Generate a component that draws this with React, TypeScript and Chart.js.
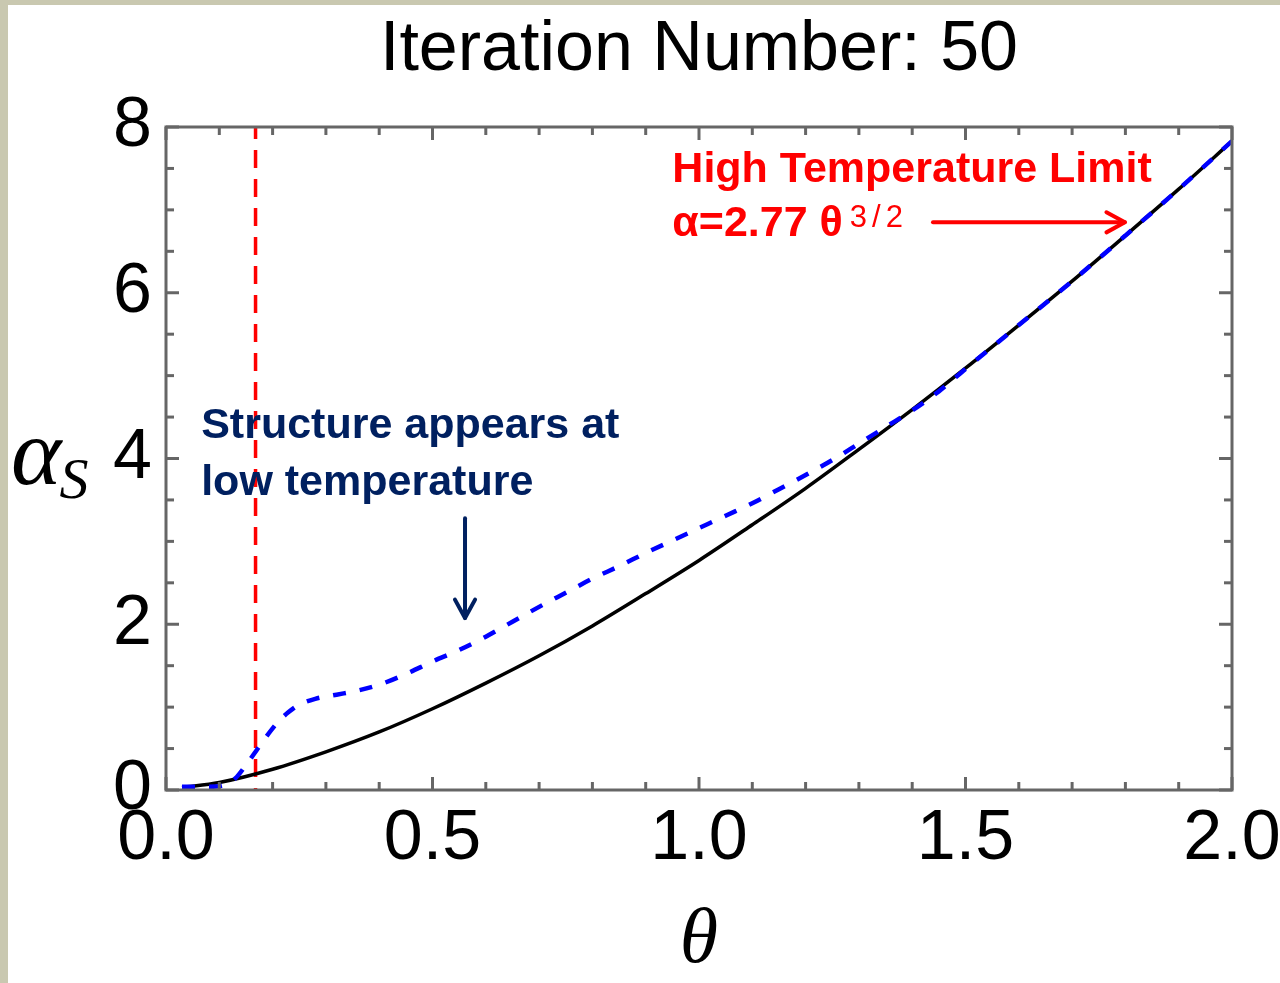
import React, { useEffect, useRef } from "react";
import { Chart, registerables } from "chart.js";

Chart.register(...registerables);

// ---------- text ----------
const TITLE = "Iteration Number: 50";
const X_TITLE = "θ";
const Y_TITLE_MAIN = "α";
const Y_TITLE_SUB = "S";
const HIGH_T_LINE1 = "High Temperature Limit";
const HIGH_T_LINE2 = "α=2.77 θ";
const HIGH_T_SUP = ["3", "/", "2"];
const STRUCT_LINE1 = "Structure appears at";
const STRUCT_LINE2 = "low temperature";

// ---------- axes ----------
const X_MIN = 0;
const X_MAX = 2;
const X_STEP = 0.1;
const X_MAJOR = 0.5;
const Y_MIN = 0;
const Y_MAX = 8;
const Y_STEP = 0.5;
const Y_MAJOR = 2;

// ---------- data ----------
// high temperature limit (solid black)
const limitTheta = [0.03, 0.1, 0.2, 0.3, 0.4, 0.5, 0.6, 0.7, 0.8, 0.9, 1.0, 1.1, 1.2, 1.3, 1.4, 1.5, 1.6, 1.7, 1.8, 1.9, 2.0];
const limitAlpha = [0.03, 0.09, 0.25, 0.46, 0.7, 0.98, 1.29, 1.62, 1.98, 2.37, 2.77, 3.2, 3.64, 4.11, 4.59, 5.09, 5.61, 6.14, 6.69, 7.25, 7.83];

// iteration 50 result (dashed blue)
const iterTheta = [0.03, 0.08, 0.11, 0.13, 0.15, 0.17, 0.19, 0.21, 0.23, 0.25, 0.28, 0.32, 0.36, 0.4, 0.45, 0.5, 0.55, 0.6, 0.65, 0.7, 0.75, 0.8, 0.85, 0.9, 0.95, 1.0, 1.05, 1.1, 1.15, 1.2, 1.25, 1.3, 1.35, 1.4, 1.45, 1.5, 1.6, 1.7, 1.8, 1.9, 2.0];
const iterAlpha = [0.04, 0.04, 0.06, 0.14, 0.3, 0.48, 0.66, 0.82, 0.94, 1.03, 1.1, 1.15, 1.2, 1.27, 1.4, 1.55, 1.69, 1.85, 2.03, 2.21, 2.38, 2.55, 2.7, 2.86, 3.01, 3.16, 3.31, 3.46, 3.63, 3.8, 3.98, 4.18, 4.38, 4.58, 4.81, 5.08, 5.61, 6.14, 6.69, 7.25, 7.83];

// red vertical marker
const markerTheta = [0.168, 0.168];
const markerAlpha = [8, 0];

// annotation anchors in data coordinates
const highTextAnchor = { theta: 0.95, alpha1: 7.34, alpha2: 6.69 };
const highArrow = { theta0: 1.439, theta1: 1.799, alpha: 6.85 };
const structTextAnchor = { theta: 0.066, alpha1: 4.25, alpha2: 3.56 };
const structArrow = { theta: 0.561, alpha0: 3.28, alpha1: 2.075 };

const toPoints = (xs: number[], ys: number[]) => xs.map((x, i) => ({ x, y: ys[i] }));
const isMultiple = (v: number, m: number) => Math.abs(v / m - Math.round(v / m)) < 1e-6;

const RED = "#ff0000";
const NAVY = "#002060";
const FRAME = "#666666";
const SANS = '"Liberation Sans", Arial, sans-serif';
const SERIF = '"Liberation Serif", "Times New Roman", serif';

const frameTicksPlugin = {
  id: "frameTicks",
  afterDatasetsDraw(chart: any) {
    const { ctx, chartArea: a, scales } = chart;
    const xs = scales.x;
    const ys = scales.y;
    ctx.save();
    ctx.strokeStyle = FRAME;
    ctx.lineWidth = 3;
    ctx.lineCap = "butt";
    const seg = (x0: number, y0: number, x1: number, y1: number) => {
      ctx.beginPath();
      ctx.moveTo(x0, y0);
      ctx.lineTo(x1, y1);
      ctx.stroke();
    };
    xs.ticks.forEach((t: any) => {
      const px = xs.getPixelForValue(t.value);
      const len = isMultiple(t.value, X_MAJOR) ? 13 : 8;
      seg(px, a.bottom, px, a.bottom - len);
      seg(px, a.top, px, a.top + len);
    });
    ys.ticks.forEach((t: any) => {
      const py = ys.getPixelForValue(t.value);
      const len = isMultiple(t.value, Y_MAJOR) ? 13 : 8;
      seg(a.left, py, a.left + len, py);
      seg(a.right, py, a.right - len, py);
    });
    ctx.strokeRect(a.left, a.top, a.right - a.left, a.bottom - a.top);
    ctx.restore();
  },
};

const notesPlugin = {
  id: "notes",
  afterDraw(chart: any) {
    const { ctx, chartArea: a, scales } = chart;
    const x = scales.x;
    const y = scales.y;
    ctx.save();
    ctx.textAlign = "left";
    ctx.textBaseline = "alphabetic";

    // plot title, centred over the plot frame
    ctx.fillStyle = "#000";
    ctx.font = `70px ${SANS}`;
    ctx.textAlign = "center";
    ctx.fillText(TITLE, (a.left + a.right) / 2, 70);
    ctx.textAlign = "left";

    // y-axis title α_S
    const cy = (a.top + a.bottom) / 2;
    ctx.font = `italic 96px ${SERIF}`;
    const ax = a.left - 155;
    ctx.fillText(Y_TITLE_MAIN, ax, cy + 25);
    const aw = ctx.measureText(Y_TITLE_MAIN).width;
    ctx.font = `italic 58px ${SERIF}`;
    ctx.fillText(Y_TITLE_SUB, ax + aw - 2, cy + 39);

    // High temperature limit text
    ctx.fillStyle = RED;
    ctx.font = `bold 43px ${SANS}`;
    const hx = x.getPixelForValue(highTextAnchor.theta);
    ctx.fillText(HIGH_T_LINE1, hx, y.getPixelForValue(highTextAnchor.alpha1));
    const h2y = y.getPixelForValue(highTextAnchor.alpha2);
    ctx.fillText(HIGH_T_LINE2, hx, h2y);
    let cx = hx + ctx.measureText(HIGH_T_LINE2).width + 7;
    ctx.font = `31px ${SANS}`;
    HIGH_T_SUP.forEach((ch) => {
      ctx.fillText(ch, cx, h2y - 9);
      cx += ctx.measureText(ch).width + 5;
    });

    const arrow = (x0: number, y0: number, x1: number, y1: number, color: string) => {
      ctx.strokeStyle = color;
      ctx.lineWidth = 4;
      ctx.lineCap = "round";
      ctx.lineJoin = "round";
      ctx.beginPath();
      ctx.moveTo(x0, y0);
      ctx.lineTo(x1, y1);
      ctx.stroke();
      const ang = Math.atan2(y1 - y0, x1 - x0);
      const L = 21;
      const spread = 0.5;
      ctx.beginPath();
      ctx.moveTo(x1 - L * Math.cos(ang - spread), y1 - L * Math.sin(ang - spread));
      ctx.lineTo(x1, y1);
      ctx.lineTo(x1 - L * Math.cos(ang + spread), y1 - L * Math.sin(ang + spread));
      ctx.stroke();
    };
    const ay = y.getPixelForValue(highArrow.alpha);
    arrow(x.getPixelForValue(highArrow.theta0), ay, x.getPixelForValue(highArrow.theta1), ay, RED);

    // Structure text
    ctx.fillStyle = NAVY;
    ctx.font = `bold 43px ${SANS}`;
    const sx = x.getPixelForValue(structTextAnchor.theta);
    ctx.fillText(STRUCT_LINE1, sx, y.getPixelForValue(structTextAnchor.alpha1));
    ctx.fillText(STRUCT_LINE2, sx, y.getPixelForValue(structTextAnchor.alpha2));
    const vx = x.getPixelForValue(structArrow.theta);
    arrow(vx, y.getPixelForValue(structArrow.alpha0), vx, y.getPixelForValue(structArrow.alpha1), NAVY);

    ctx.restore();
  },
};

export default function App() {
  const canvasRef = useRef<HTMLCanvasElement | null>(null);

  useEffect(() => {
    document.body.style.margin = "0";
    const canvas = canvasRef.current;
    if (!canvas) return;
    const chart = new Chart(canvas, {
      type: "line",
      data: {
        datasets: [
          {
            label: "marker",
            data: toPoints(markerTheta, markerAlpha),
            borderColor: RED,
            borderWidth: 3.5,
            borderDash: [18, 11],
            borderDashOffset: 6,
            pointRadius: 0,
            fill: false,
            order: 3,
          },
          {
            label: "limit",
            data: toPoints(limitTheta, limitAlpha),
            borderColor: "#000000",
            borderWidth: 3.5,
            cubicInterpolationMode: "monotone",
            pointRadius: 0,
            fill: false,
            order: 2,
          },
          {
            label: "iteration",
            data: toPoints(iterTheta, iterAlpha),
            borderColor: "#0000ff",
            borderWidth: 4.5,
            borderDash: [13, 14],
            cubicInterpolationMode: "monotone",
            pointRadius: 0,
            fill: false,
            order: 1,
          },
        ],
      },
      options: {
        animation: false,
        responsive: false,
        events: [],
        layout: { padding: { left: 0, right: 48, top: 127, bottom: 0 } },
        plugins: {
          legend: { display: false },
          tooltip: { enabled: false },
          title: { display: false },
        },
        scales: {
          x: {
            type: "linear",
            min: X_MIN,
            max: X_MAX,
            grid: { display: false, drawTicks: false },
            border: { display: false },
            afterFit: (s: any) => {
              s.height = 193;
              s.paddingLeft = 0;
              s.paddingRight = 0;
            },
            ticks: {
              stepSize: X_STEP,
              autoSkip: false,
              maxRotation: 0,
              minRotation: 0,
              padding: 8,
              color: "#000",
              font: { family: SANS, size: 70, lineHeight: 1.2 },
              callback: (v: any) => (isMultiple(Number(v), X_MAJOR) ? Number(v).toFixed(1) : ""),
            },
            title: {
              display: true,
              text: X_TITLE,
              color: "#000",
              font: { family: SERIF, style: "italic", size: 78, lineHeight: 1 },
              padding: { top: 0, bottom: 3 },
            },
          },
          y: {
            type: "linear",
            min: Y_MIN,
            max: Y_MAX,
            grid: { display: false, drawTicks: false },
            border: { display: false },
            afterFit: (s: any) => {
              s.width = 166;
              s.paddingTop = 0;
              s.paddingBottom = 0;
            },
            ticks: {
              stepSize: Y_STEP,
              autoSkip: false,
              padding: 14,
              color: "#000",
              font: { family: SANS, size: 70, lineHeight: 1.2 },
              callback: (v: any) => (isMultiple(Number(v), Y_MAJOR) ? String(Number(v)) : ""),
            },
          },
        },
      },
      plugins: [frameTicksPlugin, notesPlugin],
    } as any);
    return () => chart.destroy();
  }, []);

  return (
    <div style={{ position: "relative", width: 1280, height: 983, background: "#fff", overflow: "hidden" }}>
      <canvas ref={canvasRef} width={1280} height={983} style={{ display: "block" }} />
      <div style={{ position: "absolute", left: 0, top: 0, width: 8, height: 983, background: "#c9c8b0" }} />
      <div style={{ position: "absolute", left: 0, top: 0, width: 1280, height: 5, background: "#c9c8b0" }} />
    </div>
  );
}
